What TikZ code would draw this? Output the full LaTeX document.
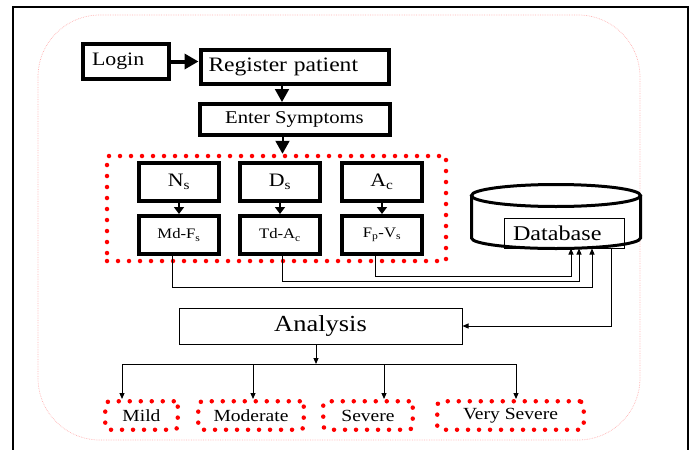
\documentclass[tikz,border=0pt]{standalone}
\usepackage{fontspec}
\setmainfont{Liberation Serif}[FakeStretch=1.15]
\usetikzlibrary{positioning}
\usetikzlibrary{arrows.meta}

\begin{document}
\begin{tikzpicture}[
  x=1pt, y=-1pt,
  node distance=16pt,
  thickbox/.style={draw,line width=4pt,minimum height=35pt,inner sep=2pt},
  symtop/.style={draw,line width=4pt,minimum width=80pt,minimum height=38pt,inner sep=1pt,font=\fontsize{19}{22}\selectfont},
  symlow/.style={symtop,font=\fontsize{14.5}{17}\selectfont},
  thinbox/.style={draw,line width=1pt},
  dotgroup/.style={draw=red,line width=4.5pt,line cap=round,dash pattern=on 0pt off 11pt},
  sevbox/.style={dotgroup,minimum height=28.5pt,rounded corners=4pt,inner sep=1pt,font=\fontsize{17}{20}\selectfont},
  bigarrow/.style={line width=2pt,-{Triangle[length=13pt,width=14pt]}},
  midarrow/.style={line width=2pt,-{Triangle[length=7pt,width=10pt]}},
  thinarrow/.style={line width=1pt,-{Triangle[length=6pt,width=5pt]}}
]
\useasboundingbox (0,0) rectangle (694,450);
\draw[line width=2pt] (13,450) -- (13,7) -- (688,7) -- (688,450);
\draw[red!30,line width=0.7pt,dash pattern=on 0.7pt off 1pt,rounded corners=62pt] (38,15) rectangle (640,440);

\node[thickbox,minimum width=86pt,text width=68pt,inner xsep=9pt,align=left,font=\fontsize{19}{22}\selectfont] (login) at (126,61.5) {Login};
\node[thickbox,minimum height=34pt,text width=172pt,inner xsep=8pt,align=left,font=\fontsize{20.5}{24}\selectfont] (reg) at (294.5,67) {Register patient};
\node[thickbox,below=of reg,minimum width=190pt,minimum height=31pt,font=\fontsize{18}{21}\selectfont] (sympt) {Enter Symptoms};

\node[dotgroup,minimum width=339pt,minimum height=105pt] (grp) at (276.5,208.5) {};
\node[symtop] (ns) at (179,182) {N\textsubscript{s}};
\node[symtop,right=17pt of ns] (ds) {D\textsubscript{s}};
\node[symtop,right=18pt of ds] (ac) {A\textsubscript{c}};
\node[symlow,below=11pt of ns] (mdfs) {Md-F\textsubscript{s}};
\node[symlow,below=11pt of ds] (tdac) {Td-A\textsubscript{c}};
\node[symlow,below=11pt of ac] (fpvs) {F\textsubscript{p}-V\textsubscript{s}};

\draw[line width=3pt] (471.5,195.5) -- (471.5,238) arc[start angle=180,end angle=0,x radius=84.5,y radius=10.5] -- (640.5,195.5);
\draw[line width=3pt] (556,195.5) ellipse[x radius=84.5,y radius=11];
\node[thinbox,minimum width=120pt,minimum height=30pt,text width=102pt,inner xsep=9pt,align=left,font=\fontsize{21}{24}\selectfont] (db) at (564,233) {Database};

\node[thinbox,minimum width=283pt,minimum height=36pt,font=\fontsize{23}{26}\selectfont] (anal) at (320.5,326) {Analysis};

\node[sevbox,minimum width=72.5pt] (mild) at (141.5,415.5) {Mild};
\node[sevbox,minimum width=105.5pt,right=16pt of mild] (moder) {Moderate};
\node[sevbox,minimum width=89.5pt,right=15pt of moder] (sev) {Severe};
\node[sevbox,minimum width=146.5pt,right=20pt of sev] (vsev) {Very Severe};

\draw[bigarrow,line width=4pt,-{Triangle[length=14pt,width=15pt]}] (login.east) -- (login.east -| reg.west);
\draw[bigarrow] ([xshift=-12.5pt]reg.south) -- ([xshift=-12.5pt]reg.south |- sympt.north);
\draw[bigarrow] ([xshift=-12pt]sympt.south) -- ([xshift=-12pt]sympt.south |- grp.north);

\path (ns) edge[midarrow] (mdfs)
(ds) edge[midarrow] (tdac)
(ac) edge[midarrow] (fpvs)
;

\draw[thinarrow] ([xshift=-7pt]mdfs.south) -- ++(0,31) -| ([xshift=28pt]db.south);
\draw[thinarrow] ([xshift=2pt]tdac.south) -- ++(0,25) -| ([xshift=15pt]db.south);
\draw[thinarrow] ([xshift=-7pt]fpvs.south) -- ++(0,20) -| ([xshift=7pt]db.south);
\draw[thinarrow] ([xshift=47pt]db.south) |- (anal.east);

\coordinate (split) at (316,364);
\draw[thinarrow] (anal.south -| split) -- (split);
\draw[line width=1pt] (split -| 122,0) -- (split -| 516,0);
\foreach \xx/\tgt in {122/mild,253/moder,384/sev,516/vsev}
  \draw[thinarrow] (split -| \xx,0) -- (\tgt.north -| \xx,0);

\end{tikzpicture}
\end{document}
